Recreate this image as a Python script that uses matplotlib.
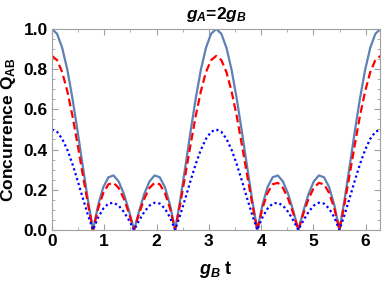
import matplotlib
matplotlib.use('Agg')
import matplotlib.pyplot as plt
from matplotlib.ticker import MultipleLocator

plt.rcParams['font.family'] = 'Liberation Sans'
plt.rcParams['font.weight'] = 'bold'
plt.rcParams['mathtext.fontset'] = 'custom'
plt.rcParams['mathtext.rm'] = 'Liberation Sans:bold'
plt.rcParams['mathtext.it'] = 'Liberation Sans:bold:italic'
plt.rcParams['mathtext.bf'] = 'Liberation Sans:bold'

# g_B t samples
t = [0.000, 0.098, 0.196, 0.295, 0.393, 0.491, 0.589, 0.687, 0.785, 0.884,
     0.982, 1.080, 1.178, 1.276, 1.374, 1.473, 1.571, 1.669, 1.767, 1.865,
     1.963, 2.062, 2.160, 2.258, 2.356, 2.454, 2.553, 2.651, 2.749, 2.847,
     2.945, 3.043, 3.142, 3.240, 3.338, 3.436, 3.534, 3.632, 3.731, 3.829,
     3.927, 4.025, 4.123, 4.221, 4.320, 4.418, 4.516, 4.614, 4.712, 4.811,
     4.909, 5.007, 5.105, 5.203, 5.301, 5.400, 5.498, 5.596, 5.694, 5.792,
     5.890, 5.989, 6.087, 6.185, 6.283]

q_solid = [1.000, 0.976, 0.906, 0.796, 0.653, 0.490, 0.318, 0.151, 0.000, 0.124,
           0.213, 0.262, 0.271, 0.241, 0.180, 0.096, 0.000, 0.096, 0.180, 0.241,
           0.271, 0.262, 0.213, 0.124, 0.000, 0.151, 0.318, 0.490, 0.653, 0.796,
           0.906, 0.976, 1.000, 0.976, 0.906, 0.796, 0.653, 0.490, 0.318, 0.151,
           0.000, 0.124, 0.213, 0.262, 0.271, 0.241, 0.180, 0.096, 0.000, 0.096,
           0.180, 0.241, 0.271, 0.262, 0.213, 0.124, 0.000, 0.151, 0.318, 0.490,
           0.653, 0.796, 0.906, 0.976, 1.000]

q_dashed = [0.866, 0.845, 0.785, 0.689, 0.566, 0.424, 0.276, 0.131, 0.000, 0.107,
            0.184, 0.227, 0.234, 0.209, 0.156, 0.083, 0.000, 0.083, 0.156, 0.209,
            0.234, 0.227, 0.184, 0.107, 0.000, 0.131, 0.276, 0.424, 0.566, 0.689,
            0.785, 0.845, 0.866, 0.845, 0.785, 0.689, 0.566, 0.424, 0.276, 0.131,
            0.000, 0.107, 0.184, 0.227, 0.234, 0.209, 0.156, 0.083, 0.000, 0.083,
            0.156, 0.209, 0.234, 0.227, 0.184, 0.107, 0.000, 0.131, 0.276, 0.424,
            0.566, 0.689, 0.785, 0.845, 0.866]

q_dotted = [0.500, 0.488, 0.453, 0.398, 0.327, 0.245, 0.159, 0.075, 0.000, 0.062,
            0.106, 0.131, 0.135, 0.121, 0.090, 0.048, 0.000, 0.048, 0.090, 0.121,
            0.135, 0.131, 0.106, 0.062, 0.000, 0.075, 0.159, 0.245, 0.327, 0.398,
            0.453, 0.488, 0.500, 0.488, 0.453, 0.398, 0.327, 0.245, 0.159, 0.075,
            0.000, 0.062, 0.106, 0.131, 0.135, 0.121, 0.090, 0.048, 0.000, 0.048,
            0.090, 0.121, 0.135, 0.131, 0.106, 0.062, 0.000, 0.075, 0.159, 0.245,
            0.327, 0.398, 0.453, 0.488, 0.500]

fig = plt.figure(figsize=(3.82, 2.87), dpi=100)
ax = fig.add_axes([0.136, 0.199, 0.86, 0.70])

ax.plot(t, q_solid, color='#5E81B5', lw=1.6, solid_joinstyle='round')
ax.plot(t, q_dashed, color='#FF0000', lw=1.6, dashes=(3.5, 1.8))
ax.plot(t, q_dotted, color='#0000FF', lw=1.6, dashes=(1, 1.3))

ax.set_xlim(0, 6.283)
ax.set_ylim(0, 1.0)
ax.xaxis.set_major_locator(MultipleLocator(1))
ax.xaxis.set_minor_locator(MultipleLocator(0.5))
ax.yaxis.set_major_locator(MultipleLocator(0.2))
ax.yaxis.set_minor_locator(MultipleLocator(0.05))
ax.yaxis.set_major_formatter(matplotlib.ticker.FormatStrFormatter('%.1f'))

for s in ax.spines.values():
    s.set_color('#A0A0A0')
    s.set_linewidth(0.8)
ax.tick_params(which='both', direction='in', top=True, right=True, color='#A0A0A0',
               labelsize=12.5, pad=3)
ax.tick_params(which='major', length=4, width=0.8)
ax.tick_params(which='minor', length=2.5, width=0.6)
for lab in ax.get_xticklabels() + ax.get_yticklabels():
    lab.set_fontweight('bold')

ax.set_title(r'$g_A$=2$g_B$', fontsize=12.5, fontweight='bold', pad=7)
ax.set_xlabel(r'$g_B$ t', fontsize=13, fontweight='bold', labelpad=7)
ax.set_ylabel(r'Concurrence Q$_{\mathrm{AB}}$', fontsize=12.5, fontweight='bold')
ax.yaxis.set_label_coords(-0.102, 0.5)

fig.savefig('out.png', dpi=100)
